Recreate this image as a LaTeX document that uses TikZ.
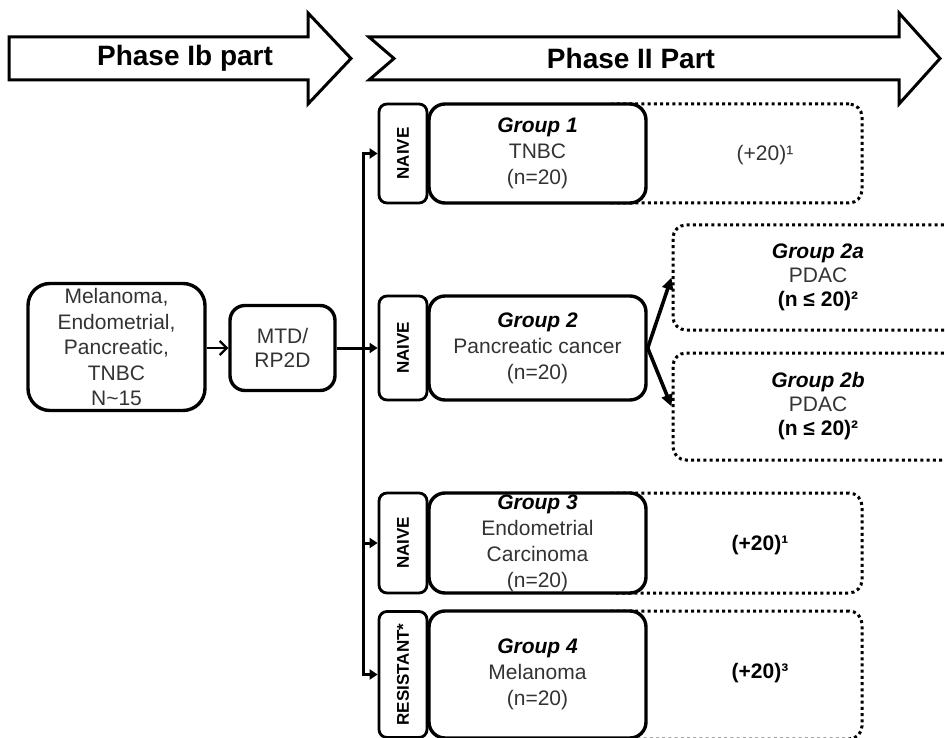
\documentclass[tikz,border=0pt]{standalone}
\usepackage{fontspec}
\setmainfont{Liberation Sans}
\usetikzlibrary{arrows.meta}

\newcommand{\grp}[1]{{\color{black}\bfseries\itshape #1}}

\begin{document}
\begin{tikzpicture}[x=1pt, y=-1pt,
  box/.style={draw, line width=3.4pt, rounded corners=16pt, fill=white, align=center,
    inner sep=0pt, text=black!80, font=\fontsize{21}{26}\selectfont},
  tagbox/.style={draw, line width=2.8pt, rounded corners=8pt, fill=white, inner sep=0pt,
    rotate=90, minimum height=48pt, font=\fontsize{17}{20}\selectfont\bfseries},
  dotbox/.style={draw, line width=3pt, dash pattern=on 3pt off 3.2pt, rounded corners=13pt,
    align=center, inner sep=0pt, text=black!80, font=\fontsize{21}{24}\selectfont},
  plus/.style={inner sep=0pt, font=\fontsize{21}{24}\selectfont},
  conn/.style={line width=3pt},
  tip/.style={-{Triangle[length=8pt, width=10pt]}},
  head/.style={draw, line width=3pt, miter limit=10}]
  \useasboundingbox (0,0) rectangle (945,738);

  % phase arrows
  \draw[head] (9,37) -- (308,37) -- (308,13) -- (351,58.5) -- (308,104) -- (308,80) -- (9,80) -- cycle;
  \draw[head] (369,37) -- (899,37) -- (899,13) -- (940,58.5) -- (899,104) -- (899,80) -- (369,80) -- (394,58.5) -- cycle;
  \node[plus, font=\fontsize{28}{32}\selectfont\bfseries] (ph1) at (185,58.5) {Phase Ib part};
  \node[plus, font=\fontsize{28}{32}\selectfont\bfseries] (ph2) at (631,58.5) {Phase II Part};

  % phase Ib
  \node[box, rounded corners=22pt, minimum width=177pt, minimum height=127pt, font=\fontsize{21}{25.5}\selectfont]
    (src) at (116.5,347) {Melanoma,\\Endometrial,\\Pancreatic,\\TNBC\\N\textasciitilde15};
  \node[box, rounded corners=15pt, minimum width=105pt, minimum height=85pt, font=\fontsize{21}{24}\selectfont]
    (mtd) at (282.5,348) {MTD/\\RP2D};

  % dotted extensions
  \node[dotbox, minimum width=262pt, minimum height=99pt] (d1) at (731,153.5) {};
  \node[dotbox, minimum width=290pt, minimum height=105pt] (d2a) at (818,277.5)
    {\grp{Group 2a}\\PDAC\\{\color{black}\bfseries(n ≤ 20)²}};
  \node[dotbox, minimum width=290pt, minimum height=107pt] (d2b) at (818,406.5)
    {\grp{Group 2b}\\PDAC\\{\color{black}\bfseries(n ≤ 20)²}};
  \node[dotbox, minimum width=262pt, minimum height=100pt] (d3) at (731,543) {};
  \node[dotbox, minimum width=262pt, minimum height=128pt] (d4) at (731,675) {};

  % groups
  \node[tagbox, minimum width=99pt] (t1) at (403,153.5) {NAIVE};
  \node[tagbox, minimum width=104pt] (t2) at (403,348) {NAIVE};
  \node[tagbox, minimum width=100pt] (t3) at (403,543) {NAIVE};
  \node[tagbox, minimum width=126pt] (t4) at (403,674.5) {RESISTANT*};
  \node[box, minimum width=217pt, minimum height=99pt] (g1) at (537.5,153.5) {\grp{Group 1}\\TNBC\\(n=20)};
  \node[box, minimum width=217pt, minimum height=104pt] (g2) at (537.5,348) {\grp{Group 2}\\Pancreatic cancer\\(n=20)};
  \node[box, minimum width=217pt, minimum height=100pt] (g3) at (537.5,543) {\grp{Group 3}\\Endometrial\\Carcinoma\\(n=20)};
  \node[box, minimum width=217pt, minimum height=127pt] (g4) at (537.5,674.5) {\grp{Group 4}\\Melanoma\\(n=20)};

  \node[plus, text=black!80] (p1) at (765,155) {(+20)¹};
  \node[plus, font=\fontsize{21}{24}\selectfont\bfseries] (p3) at (760,545) {(+20)¹};
  \node[plus, font=\fontsize{21}{24}\selectfont\bfseries] (p4) at (760,673) {(+20)³};

  % connectors
  \coordinate (bus) at (363,348);
  \draw[line width=2.2pt, -{Straight Barb[length=7pt, width=14pt, line width=2.2pt]}] (src.east |- mtd) -- (mtd.west);
  \draw[conn, tip] (mtd.east) -- (t2.north);
  \draw[conn, {Triangle[length=8pt, width=10pt]}-{Triangle[length=8pt, width=10pt]}, line join=miter]
    (t4.north) -- (bus |- t4.north) -- (bus |- t1.north) -- (t1.north);
  \draw[conn, tip] (bus |- t3.north) -- (t3.north);
  \draw[line width=3.6pt, -{Triangle[length=12pt, width=11pt]}] (g2.east) -- (d2a.west);
  \draw[line width=3.6pt, -{Triangle[length=12pt, width=11pt]}] (g2.east) -- (d2b.west);
\end{tikzpicture}
\end{document}
